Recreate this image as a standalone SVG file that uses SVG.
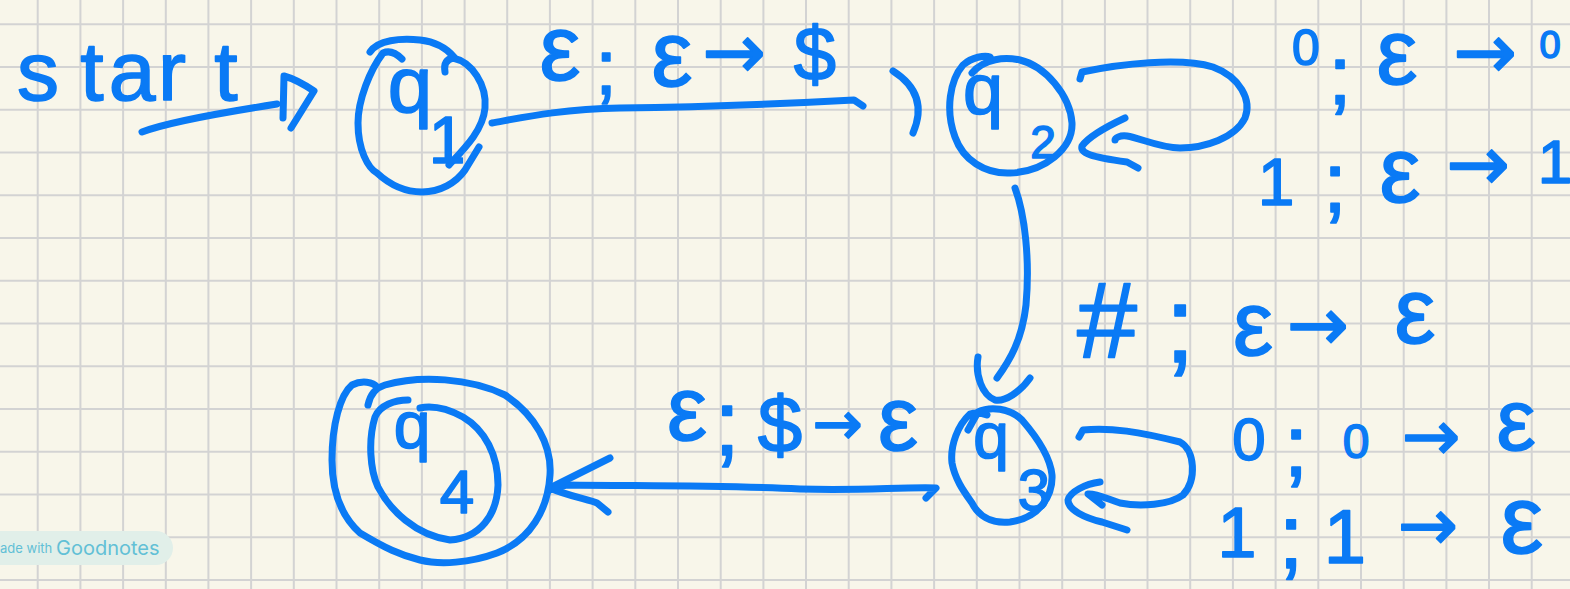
<svg xmlns="http://www.w3.org/2000/svg" width="1570" height="589" viewBox="0 0 1570 589">
<style>
.ink{fill:none;stroke:#0a7af5;stroke-width:7;stroke-linecap:round;stroke-linejoin:round}
.grid{fill:none;stroke:#d3d3d3;stroke-width:2}
.t{fill:#0a7af5;stroke:#0a7af5;stroke-width:1.6;stroke-linejoin:round;font-family:"Liberation Sans","DejaVu Sans",sans-serif;text-anchor:middle}
.ar{font-family:"DejaVu Sans","Liberation Sans",sans-serif}
.wm{font-family:Inter,"Liberation Sans",sans-serif;fill:#62c0d6}
</style>
<rect width="1570" height="589" fill="#f8f6ea"/>
<path class="grid" d="M37.7,0V589M80.4,0V589M123.1,0V589M165.8,0V589M208.4,0V589M251.1,0V589M293.8,0V589M336.5,0V589M379.2,0V589M421.9,0V589M464.6,0V589M507.2,0V589M549.9,0V589M592.6,0V589M635.3,0V589M678,0V589M720.7,0V589M763.4,0V589M806,0V589M848.7,0V589M891.4,0V589M934.1,0V589M976.8,0V589M1019.5,0V589M1062.2,0V589M1104.9,0V589M1147.5,0V589M1190.2,0V589M1232.9,0V589M1275.6,0V589M1318.3,0V589M1361,0V589M1403.7,0V589M1446.4,0V589M1489,0V589M1531.7,0V589M0,24.3H1570M0,67.1H1570M0,109.8H1570M0,152.6H1570M0,195.3H1570M0,238.1H1570M0,280.8H1570M0,323.6H1570M0,366.3H1570M0,409.1H1570M0,451.8H1570M0,494.6H1570M0,537.3H1570M0,580.1H1570"/>
<g id="watermark">
<rect x="-20" y="531" width="193" height="34" rx="17" fill="#e1efe9"/>
<text class="wm" x="0" y="553" font-size="13">ade with</text>
<text class="wm" x="56" y="555" font-size="20">Goodnotes</text>
</g>
<g id="start-label">
<text class="t" y="100" font-size="84"><tspan x="38">s</tspan><tspan x="92">t</tspan><tspan x="132">a</tspan><tspan x="172">r</tspan><tspan x="226">t</tspan></text>
</g>
<g id="connectors">
<path class="ink" d="M142,132 C160,125 200,116 277,104"/>
<path class="ink" d="M283,118 L284,76 C295,79 305,85 314,91 L291,128"/>
<path class="ink" d="M492,123 C520,118 560,109 620,108 C700,107 780,104 854,100 L863,106"/>
<path class="ink" d="M893,71 C915,85 925,105 913,133"/>
<path class="ink" d="M1080,79 L1082,72 C1120,64 1180,57 1213,67 C1240,77 1252,100 1245,118 C1235,138 1205,148 1180,148 C1160,148 1140,138 1127,136 C1120,135 1115,138 1115,140"/>
<path class="ink" d="M1125,118 C1110,125 1090,135 1082,146 C1080,153 1090,157 1127,162 L1138,168"/>
<path class="ink" d="M1015,188 C1025,215 1030,260 1026,305 C1022,340 1010,360 997,378"/>
<path class="ink" d="M978,357 C975,375 982,395 995,400 C1005,402 1020,392 1030,378"/>
<path class="ink" d="M1079,437 L1083,430 C1110,427 1140,432 1180,442 C1195,450 1197,480 1183,495 C1170,505 1140,507 1120,503 C1105,498 1095,493 1088,494 L1102,505"/>
<path class="ink" d="M1100,482 C1085,484 1070,492 1068,500 C1068,510 1085,518 1102,522 L1127,530"/>
<path class="ink" d="M926,498 L936,488 C900,487 860,491 800,489 C720,485 650,486 567,485 L550,490"/>
<path class="ink" d="M610,458 C590,468 570,478 550,488 C565,495 590,500 597,503 L608,512"/>
</g>
<g id="labels">
<text class="t" id="l12"><tspan x="560" y="80" font-size="92">ε</tspan><tspan x="606" y="94" font-size="78">;</tspan><tspan x="672" y="86" font-size="92">ε</tspan><tspan class="ar" x="734" y="78" font-size="76">→</tspan><tspan x="815" y="80" font-size="76">$</tspan></text>
<text class="t" id="l22a"><tspan x="1306" y="65" font-size="50">0</tspan><tspan x="1340" y="104" font-size="84">;</tspan><tspan x="1397" y="84" font-size="92">ε</tspan><tspan class="ar" x="1485" y="78" font-size="76">→</tspan><tspan x="1550" y="58" font-size="38">0</tspan></text>
<text class="t" id="l22b"><tspan x="1276" y="205" font-size="66">1</tspan><tspan x="1335" y="212" font-size="86">;</tspan><tspan x="1400" y="202" font-size="92">ε</tspan><tspan class="ar" x="1478" y="190" font-size="76">→</tspan><tspan x="1555" y="183" font-size="62">1</tspan></text>
<text class="t" id="l23"><tspan x="1107" y="357" font-size="108">#</tspan><tspan x="1180" y="362" font-size="108">;</tspan><tspan x="1253" y="355" font-size="90">ε</tspan><tspan class="ar" x="1318" y="350" font-size="74">→</tspan><tspan x="1415" y="343" font-size="92">ε</tspan></text>
<text class="t" id="l34"><tspan x="687" y="440" font-size="90">ε</tspan><tspan x="727" y="455" font-size="92">;</tspan><tspan x="780" y="452" font-size="80">$</tspan><tspan class="ar" x="838" y="444" font-size="60">→</tspan><tspan x="898" y="450" font-size="90">ε</tspan></text>
<text class="t" id="l33a"><tspan x="1249" y="460" font-size="60">0</tspan><tspan x="1296" y="476" font-size="88">;</tspan><tspan x="1356" y="458" font-size="48">0</tspan><tspan class="ar" x="1431" y="460" font-size="70">→</tspan><tspan x="1516" y="450" font-size="88">ε</tspan></text>
<text class="t" id="l33b"><tspan x="1237" y="557" font-size="70">1</tspan><tspan x="1291" y="568" font-size="90">;</tspan><tspan x="1345" y="563" font-size="76">1</tspan><tspan class="ar" x="1428" y="550" font-size="72">→</tspan><tspan x="1522" y="553" font-size="96">ε</tspan></text>
</g>
<g id="q1">
<path class="ink" d="M402,59 Q392,49 383,53 C370,70 358,100 358,123 C358,150 368,168 377,173 C390,185 405,192 422,192 C440,192 456,183 465,170 L479,147"/>
<path class="ink" d="M445,72 Q443,60 453,58 C472,62 487,85 485,108 C483,130 465,148 449,165"/>
<path class="ink" d="M370,52 C378,40 400,38 420,40 C438,42 448,50 454,57"/>
<text class="t"><tspan x="410" y="112" font-size="80">q</tspan><tspan x="447" y="163" font-size="66">1</tspan></text>
</g>
<g id="q2">
<path class="ink" d="M972,73 C985,58 1005,57 1020,60 C1045,66 1070,95 1072,123 C1073,148 1045,172 1010,173 C985,174 963,160 955,137 C945,110 950,80 963,65 C972,57 985,55 990,57"/>
<text class="t"><tspan x="983" y="114" font-size="72">q</tspan><tspan x="1043" y="158" font-size="46">2</tspan></text>
</g>
<g id="q3">
<path class="ink" d="M968,430 L978,412 C990,406 1010,408 1022,420 C1035,435 1050,455 1052,475 C1053,495 1040,518 1010,522 C990,524 978,515 972,503 C965,493 955,480 952,463 C950,445 958,425 970,414 C976,412 982,413 987,415"/>
<text class="t"><tspan x="991" y="458" font-size="64">q</tspan><tspan x="1034" y="510" font-size="58">3</tspan></text>
</g>
<g id="q4">
<path class="ink" d="M368,405 C370,395 375,388 385,385 C420,375 470,378 505,395 C535,415 552,445 550,475 C548,510 530,540 497,553 C470,563 440,565 420,560 C400,555 385,548 360,533 C340,515 332,490 332,460 C332,425 340,395 352,385 C362,380 373,382 377,387"/>
<path class="ink" d="M408,400 C395,400 380,405 375,417 C368,440 370,470 378,487 C390,510 415,535 450,540 C480,538 497,515 498,485 C498,455 485,430 463,417 C450,410 435,405 420,408"/>
<text class="t"><tspan x="412" y="448" font-size="66">q</tspan><tspan x="457" y="513" font-size="62">4</tspan></text>
</g>
</svg>
